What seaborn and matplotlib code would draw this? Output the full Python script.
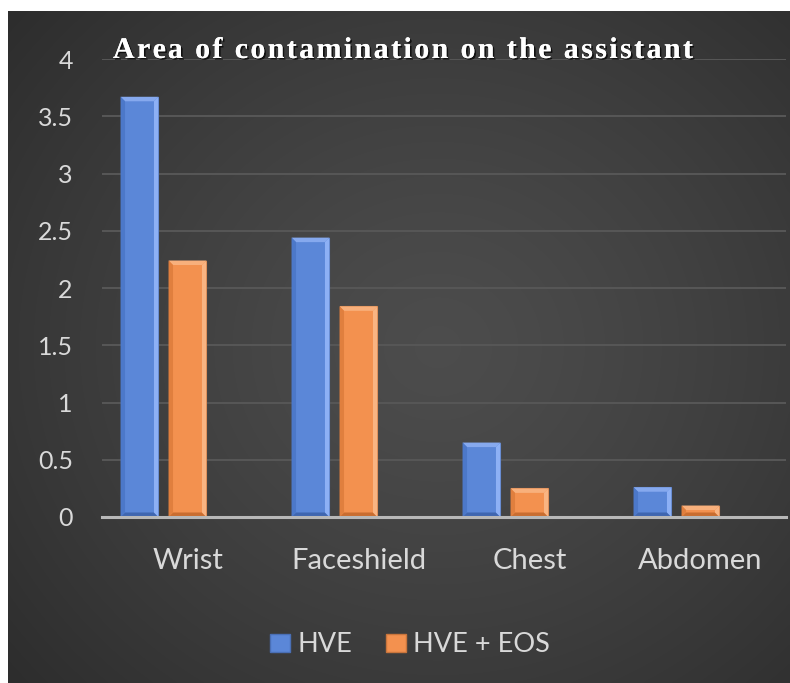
import numpy as np
import pandas as pd
import seaborn as sns
import matplotlib.pyplot as plt
import matplotlib.patheffects as pe
from matplotlib.patches import Patch, Polygon

# --------------------------------------------------------------------------- #
# Data
# --------------------------------------------------------------------------- #
regions = ["Wrist", "Faceshield", "Chest", "Abdomen"]
series = ["HVE", "HVE + EOS"]
hve = [3.67, 2.44, 0.65, 0.26]
hve_eos = [2.24, 1.84, 0.25, 0.10]
y_ticks = [0, 0.5, 1, 1.5, 2, 2.5, 3, 3.5, 4]
y_ticklabels = ["0", "0.5", "1", "1.5", "2", "2.5", "3", "3.5", "4"]
title = "Area of contamination on the assistant"

# Excel chart had an empty third series, which keeps a blank slot per group
blank = " "

colors = {"HVE": "#5b87d8", "HVE + EOS": "#f3914f", blank: "#000000"}
bevel = {
    "HVE": {"top": "#86a9ee", "right": "#8db0f5", "left": "#4c78c9",
            "bottom": "#3f66b0", "edge": "#4a6fb5"},
    "HVE + EOS": {"top": "#f8b07c", "right": "#f9b482", "left": "#e07f3e",
                  "bottom": "#c96d30", "edge": "#c9753c"},
}

df = pd.DataFrame({
    "region": regions * 2,
    "series": [series[0]] * len(regions) + [series[1]] * len(regions),
    "value": hve + hve_eos,
})

# --------------------------------------------------------------------------- #
# Figure + background panel
# --------------------------------------------------------------------------- #
W, H = 790, 683
fig = plt.figure(figsize=(W / 100, H / 100), dpi=100)
fig.patch.set_facecolor("white")

bg = fig.add_axes([8 / W, 0, 1 - 8 / W, 1 - 11 / H])
yy, xx = np.mgrid[0:1:400j, 0:1:400j]
r = np.sqrt(((xx - 0.55) / 0.75) ** 2 + ((yy - 0.5) / 0.8) ** 2)
shade = 0.30 - 0.13 * np.clip(r, 0, 1) ** 1.3
bg.imshow(np.dstack([shade] * 3), aspect="auto", extent=[0, 1, 0, 1],
          interpolation="bicubic")
bg.set_axis_off()

ax = fig.add_axes([102 / W, 1 - 517 / H, (786 - 102) / W, (517 - 59) / H])
ax.set_facecolor("none")

sns.barplot(
    data=df, x="region", y="value", hue="series",
    hue_order=series + [blank], order=regions,
    palette=colors, width=0.842, gap=0.21, saturation=1,
    errorbar=None, legend=False, linewidth=0, ax=ax,
)

ax.set_xlim(-0.5, len(regions) - 0.5)
ax.set_ylim(0, 4)
ax.set_yticks(y_ticks)
ax.set_yticklabels(y_ticklabels)
ax.set_xlabel("")
ax.set_ylabel("")
ax.grid(axis="y", color="#575757", linewidth=1.4)
ax.grid(axis="x", visible=False)
ax.set_axisbelow(True)
for side in ["top", "right", "left"]:
    ax.spines[side].set_visible(False)
ax.spines["bottom"].set_color("#b8b8b8")
ax.spines["bottom"].set_linewidth(2.2)
ax.spines["bottom"].set_zorder(5)
ax.tick_params(axis="both", length=0, labelcolor="#d9d9d9")
ax.tick_params(axis="y", pad=21, labelsize=18)
ax.tick_params(axis="x", pad=22, labelsize=21)
for lab in ax.get_xticklabels() + ax.get_yticklabels():
    lab.set_family("Lato")

# --------------------------------------------------------------------------- #
# Bevelled bar look
# --------------------------------------------------------------------------- #
def face_to_series(fc):
    for name in series:
        if np.allclose(fc[:3], plt.matplotlib.colors.to_rgb(colors[name]), atol=0.02):
            return name
    return None


to_data = ax.transData.inverted()
for p in list(ax.patches):
    name = face_to_series(p.get_facecolor())
    if name is None or p.get_height() <= 0:
        continue
    sty = bevel[name]
    x0, y0 = ax.transData.transform((p.get_x(), p.get_y()))
    x1, y1 = ax.transData.transform((p.get_x() + p.get_width(),
                                     p.get_y() + p.get_height()))
    b = min(4.5, (y1 - y0) / 2.2)
    quads = {
        "top": [(x0, y1), (x1, y1), (x1 - b, y1 - b), (x0 + b, y1 - b)],
        "bottom": [(x0, y0), (x1, y0), (x1 - b, y0 + b), (x0 + b, y0 + b)],
        "left": [(x0, y0), (x0, y1), (x0 + b, y1 - b), (x0 + b, y0 + b)],
        "right": [(x1, y0), (x1, y1), (x1 - b, y1 - b), (x1 - b, y0 + b)],
    }
    for key, pts in quads.items():
        ax.add_patch(Polygon(to_data.transform(pts), closed=True,
                             facecolor=sty[key], edgecolor="none", zorder=3))
    p.set_edgecolor(sty["edge"])
    p.set_linewidth(0.8)
    p.set_zorder(2)

# --------------------------------------------------------------------------- #
# Title: letter-spaced serif, drawn glyph by glyph
# --------------------------------------------------------------------------- #
title_kw = dict(family="Liberation Serif", fontweight="bold", fontsize=21.5,
                color="white", va="baseline", ha="left",
                path_effects=[pe.withSimplePatchShadow(offset=(1.2, -1.2),
                                                       shadow_rgbFace="black",
                                                       alpha=0.7),
                              pe.Normal()])
renderer = fig.canvas.get_renderer()
probe = fig.text(0, 0, "|", **title_kw)
bar_w = probe.get_window_extent(renderer).width


def prefix_width(s):
    probe.set_text(s + "|")
    return probe.get_window_extent(renderer).width - bar_w


title_left, title_right, title_base = 113, 693, 58
natural = prefix_width(title[:-1])
last_w = prefix_width(title) - natural
tracking = (title_right - title_left - natural - last_w) / (len(title) - 1)
for i, ch in enumerate(title):
    if ch == " ":
        continue
    x = title_left + prefix_width(title[:i]) + i * tracking
    fig.text(x / W, 1 - title_base / H, ch, **title_kw)
probe.remove()

# --------------------------------------------------------------------------- #
# Legend
# --------------------------------------------------------------------------- #
handles = [Patch(facecolor=colors[s], edgecolor=bevel[s]["edge"]) for s in series]
leg = fig.legend(handles, series, loc="center", ncol=2,
                 bbox_to_anchor=(410 / W, 1 - 645 / H), frameon=False,
                 prop={"family": "Lato", "size": 19.5}, labelcolor="#d9d9d9",
                 handlelength=0.74, handleheight=0.67, handletextpad=0.25,
                 columnspacing=1.25)

fig.savefig("out.png", dpi=100)
